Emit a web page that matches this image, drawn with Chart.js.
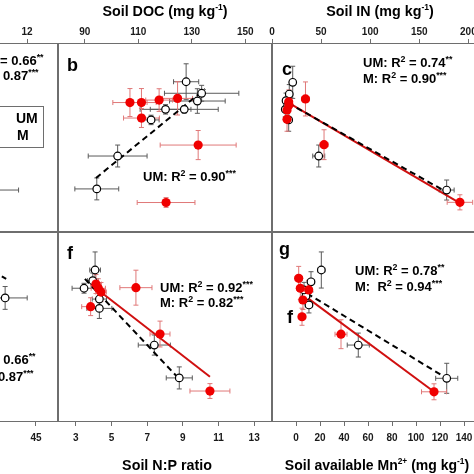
<!DOCTYPE html>
<html><head><meta charset="utf-8">
<script src="https://cdn.jsdelivr.net/npm/chart.js@4"></script>
<style>
html,body{margin:0;padding:0;width:474px;height:474px;overflow:hidden;background:#fff;position:relative}
canvas{position:absolute}
</style></head><body>
<canvas id="tl"></canvas><canvas id="tm"></canvas><canvas id="tr"></canvas>
<canvas id="bl"></canvas><canvas id="bm"></canvas><canvas id="br"></canvas>
<script>
// ---------- tick labels ----------
const tlTicks = [12];
const docTicks = [90, 110, 130, 150];
const inTicks = [0, 50, 100, 150, 200];
const blTicks = [45];
const npTicks = [3, 5, 7, 9, 11, 13];
const mnTicks = [0, 20, 40, 60, 80, 100, 120, 140];

// ---------- panel b : soil DOC ----------
const docUM_x  = [94.5, 102.3, 114.8, 120.2, 127.2, 132.1, 133.7, 127.9];
const docUM_y  = [22.8, 40.2, 59.3, 64.9, 64.9, 69.3, 73.4, 79.5];
const docUM_xe = [8.2, 11.0, 3.0, 9.5, 12.7, 10.4, 13.9, 4.7];
const docUM_ye = [5.8, 5.8, 2.5, 2.5, 2.0, 6.5, 4.2, 9.5];
const docM_x   = [106.9, 111.2, 117.8, 111.2, 124.7, 132.4, 120.4];
const docM_y   = [68.5, 68.5, 69.8, 60.3, 70.7, 46.0, 15.6];
const docM_xe  = [6.4, 5.5, 5.0, 6.7, 5.6, 14.2, 10.8];
const docM_ye  = [7.4, 7.4, 6.0, 5.0, 8.8, 7.7, 2.6];
const docUMfit_x = [94.2, 135.0];
const docUMfit_y = [28.6, 75.7];

// ---------- panel c : soil IN ----------
const inUM_x  = [21.1, 17.6, 14.3, 13.5, 17.0, 47.6, 177.9, 16.0];
const inUM_y  = [79.2, 73.0, 69.5, 64.9, 59.3, 40.2, 22.2, 67.0];
const inUM_xe = [3, 3, 3, 3, 3, 6.1, 7.6, 3];
const inUM_ye = [8.5, 5, 4, 4, 6, 5.8, 5.3, 4];
const inM_x   = [15.3, 17.0, 15.3, 34.1, 53.0, 191.4, 17.3];
const inM_y   = [59.6, 68.9, 64.6, 70.4, 46.2, 15.7, 67.2];
const inM_xe  = [3, 3, 3, 4, 4, 13, 3];
const inM_ye  = [6.3, 5.3, 5, 9, 7.9, 4, 8];
const inUMfit_x = [16.3, 174.1];
const inUMfit_y = [68.3, 22.2];
const inMfit_x  = [15.3, 191.4];
const inMfit_y  = [68.9, 15.3];

// ---------- panel f : soil N:P ratio ----------
const npUM_x  = [4.08, 3.95, 3.46, 4.32, 4.32, 7.40, 8.80];
const npUM_y  = [80.0, 74.4, 70.4, 64.7, 59.8, 40.5, 23.2];
const npUM_xe = [0.3, 0.3, 0.67, 0.4, 0.70, 0.9, 0.73];
const npUM_ye = [9.5, 4, 2.6, 4, 5.3, 5.3, 5.8];
const npM_x   = [4.26, 3.83, 6.37, 7.72, 10.52, 4.13, 4.41];
const npM_y   = [70.4, 60.7, 70.7, 46.3, 16.3, 72.6, 68.4];
const npM_xe  = [0.4, 0.5, 0.9, 0.56, 1.12, 0.3, 0.3];
const npM_ye  = [5, 4.7, 9.2, 6.8, 3.9, 5, 5];
const npUMfit_x = [3.51, 8.90];
const npUMfit_y = [75.3, 21.6];
const npMfit_x  = [3.89, 10.52];
const npMfit_y  = [72.1, 23.8];

// ---------- panel g : soil available Mn2+ ----------
const mnUM_x  = [21.1, 12.5, 8.3, 10.8, 51.9, 125.6, 6.7];
const mnUM_y  = [80.0, 73.8, 66.3, 61.6, 40.5, 23.0, 69.5];
const mnUM_xe = [3, 3, 3, 3, 9.2, 9.2, 3];
const mnUM_ye = [9.5, 5.3, 4, 4.2, 6.3, 7.9, 4];
const mnM_x   = [2.25, 3.6, 10.6, 5.0, 37.5, 115.0, 5.8];
const mnM_y   = [75.6, 70.4, 69.5, 55.4, 46.2, 15.9, 64.2];
const mnM_xe  = [3, 3, 3, 3, 5, 10.4, 3];
const mnM_ye  = [6.3, 6, 5, 4.5, 7.6, 4.2, 5];
const mnUMfit_x = [9.2, 125.6];
const mnUMfit_y = [67.7, 23.0];
const mnMfit_x  = [6.4, 115.0];
const mnMfit_y  = [66.8, 15.9];

// ---------- cropped left panels ----------
const tlUM_x = [9.16], tlUM_y = [22.2], tlUM_xe = [2.16], tlUM_ye = [5.8];
const blUM_x = [36.2], blUM_y = [65.3], blUM_xe = [6.3], blUM_ye = [6.0];
const blUMfit_x = [20.46, 36.5];
const blUMfit_y = [92.6, 75.3];

// ---------- texts ----------
const statTL = ['UM: R^2^ = 0.66^**^', 'M: R^2^ = 0.87^***^'];
const statB  = ['UM: R^2^ = 0.90^***^'];
const statC  = ['UM: R^2^ = 0.74^**^', 'M: R^2^ = 0.90^***^'];
const statBL = ['UM: R^2^ = 0.66^**^', 'M: R^2^ = 0.87^***^'];
const statF  = ['UM: R^2^ = 0.92^***^', 'M: R^2^ = 0.82^***^'];
const statG  = ['UM: R^2^ = 0.78^**^', 'M:  R^2^ = 0.94^***^'];
const titleDOC = 'Soil DOC (mg kg^-1^)';
const titleIN  = 'Soil IN (mg kg^-1^)';
const titleNP  = 'Soil N:P ratio';
const titleMN  = 'Soil available Mn^2+^ (mg kg^-1^)';
const legendNames = ['UM', 'M'];

// ================= drawing helpers =================
const FONT = "'Liberation Sans', Arial, Helvetica, sans-serif";
function rich(s){ return s.split('^').map((t,i)=>({t, sup:i%2===1})).filter(p=>p.t.length); }
function drawRich(ctx, s, x, y, size, align, supScale){
  const k = supScale || 0.68;
  const segs = rich(s);
  const f = sz => `bold ${sz}px ${FONT}`;
  let w = 0;
  segs.forEach(p=>{ ctx.font = f(p.sup ? size*k : size); p.w = ctx.measureText(p.t).width; w += p.w; });
  let cx = align==='center' ? x - w/2 : align==='right' ? x - w : x;
  ctx.fillStyle = '#000'; ctx.textAlign = 'left'; ctx.textBaseline = 'alphabetic';
  segs.forEach(p=>{ ctx.font = f(p.sup ? size*k : size); ctx.fillText(p.t, cx, p.sup ? y - size*0.42 : y); cx += p.w; });
}
function pts(xs, ys){ return xs.map((v,i)=>({x:v, y:ys[i]})); }
function umSet(x,y,xe,ye){ return {data:pts(x,y), errX:xe, errY:ye, errColor:'#5a5a5a', pointRadius:3.8, pointHoverRadius:3.8,
  pointBackgroundColor:'#fff', pointBorderColor:'#000', pointBorderWidth:1.2, order:2}; }
function mSet(x,y,xe,ye){ return {data:pts(x,y), errX:xe, errY:ye, errColor:'#e07878', pointRadius:4.6, pointHoverRadius:4.6,
  pointBackgroundColor:'#f00000', pointBorderColor:'#f00000', pointBorderWidth:0, order:1}; }
function fitSet(x,y,color,dash){ return {data:pts(x,y), showLine:true, pointRadius:0, borderColor:color, borderWidth:2,
  borderDash:dash||[], order:3}; }

function makeDeco(d, g){
  return {
    id:'deco',
    beforeDatasetsDraw(chart){
      const {ctx, chartArea:a, scales:{x, y}} = chart;
      ctx.save();
      ctx.beginPath(); ctx.rect(a.left, a.top, a.right-a.left, a.bottom-a.top); ctx.clip();
      const ln = (x1,y1,x2,y2)=>{ ctx.beginPath(); ctx.moveTo(x1,y1); ctx.lineTo(x2,y2); ctx.stroke(); };
      chart.data.datasets.forEach(ds=>{
        if(!ds.errX) return;
        ctx.strokeStyle = ds.errColor; ctx.lineWidth = 1;
        ds.data.forEach((p,i)=>{
          const px = x.getPixelForValue(p.x), py = y.getPixelForValue(p.y), c = 2.5;
          const ex = ds.errX[i], ey = ds.errY[i];
          if(ex>0){ const l = x.getPixelForValue(p.x-ex), r = x.getPixelForValue(p.x+ex);
            ln(l,py,r,py); ln(l,py-c,l,py+c); ln(r,py-c,r,py+c); }
          if(ey>0){ const t = y.getPixelForValue(p.y+ey), b = y.getPixelForValue(p.y-ey);
            ln(px,t,px,b); ln(px-c,t,px+c,t); ln(px-c,b,px+c,b); }
        });
      });
      ctx.restore();
    },
    afterDraw(chart){
      const {ctx, chartArea:a} = chart;
      ctx.save();
      ctx.strokeStyle = '#6e6e6e'; ctx.lineWidth = 1;
      ctx.strokeRect(a.left+0.5, a.top+0.5, a.right-a.left-1, a.bottom-a.top-1);
      (d.boxes||[]).forEach(b=>{ ctx.strokeRect(b.x-g.left+0.5, b.y-g.top+0.5, b.w, b.h); });
      (d.texts||[]).forEach(t=>drawRich(ctx, t.s, t.x-g.left, t.y-g.top, t.size, t.align||'left', t.sup));
      ctx.restore();
    }
  };
}

function makePanel(id, g, xs, datasets, d){
  const cv = document.getElementById(id);
  cv.width = g.w; cv.height = g.h; cv.style.left = g.left+'px'; cv.style.top = g.top+'px';
  new Chart(cv, {
    type:'scatter',
    data:{datasets},
    options:{
      responsive:false, animation:false, devicePixelRatio:1,
      layout:{autoPadding:false, padding:{left:g.padLeft||0, right:0, top:g.padTop, bottom:g.padBottom}},
      plugins:{legend:{display:false}, tooltip:{enabled:false}},
      scales:{
        x:{type:'linear', position:g.axisPos, min:xs.min, max:xs.max,
          afterBuildTicks:s=>{ s.ticks = xs.ticks.map(v=>({value:v})); },
          afterFit:s=>{ s.height = g.axisH; s.paddingLeft = 0; s.paddingRight = 0; },
          grid:{drawOnChartArea:false, drawTicks:true, tickLength:4, color:'#6e6e6e', lineWidth:1},
          border:{display:false},
          ticks:{color:'#1a1a1a', font:{family:FONT, weight:'bold', size:10}, padding:g.tickPad, maxRotation:0, autoSkip:false}},
        y:{display:false, min:0, max:100}
      }
    },
    plugins:[makeDeco(d, g)]
  });
}

const TOP = {top:0, h:240, padTop:0, padBottom:8, axisPos:'top', axisH:43, tickPad:1};
const BOT = {top:232, h:242, padTop:0, padBottom:0, axisPos:'bottom', axisH:52, tickPad:6};
const COLL = {left:-200, w:258}, COLM = {left:58, w:214}, COLR = {left:262, w:226, padLeft:10};
const LS = 13, LET = 18, TS = 14.3;

// top-left (cropped)
makePanel('tl', {...TOP, ...COLL}, {min:-6.2, max:14.48, ticks:tlTicks},
  [umSet(tlUM_x, tlUM_y, tlUM_xe, tlUM_ye)],
  {texts:[{s:statTL[0], x:43.5, y:65, size:LS, align:'right'},
          {s:statTL[1], x:38.5, y:80, size:LS, align:'right'},
          {s:legendNames[0], x:16, y:123, size:14},
          {s:legendNames[1], x:17, y:140, size:14}],
   boxes:[{x:-60, y:106, w:103, h:41}]});

// panel b
makePanel('tm', {...TOP, ...COLM}, {min:80, max:160, ticks:docTicks},
  [umSet(docUM_x, docUM_y, docUM_xe, docUM_ye), mSet(docM_x, docM_y, docM_xe, docM_ye),
   fitSet(docUMfit_x, docUMfit_y, '#000', [6,4])],
  {texts:[{s:'b', x:67, y:71, size:LET},
          {s:statB[0], x:143, y:181, size:LS},
          {s:titleDOC, x:165, y:16, size:TS, align:'center', sup:0.6}]});

// panel c
makePanel('tr', {...TOP, ...COLR}, {min:0, max:220, ticks:inTicks},
  [umSet(inUM_x, inUM_y, inUM_xe, inUM_ye), mSet(inM_x, inM_y, inM_xe, inM_ye),
   fitSet(inUMfit_x, inUMfit_y, '#000', [6,4]), fitSet(inMfit_x, inMfit_y, '#d01010')],
  {texts:[{s:'c', x:282, y:75, size:LET},
          {s:statC[0], x:363, y:67, size:LS},
          {s:statC[1], x:363, y:83, size:LS},
          {s:titleIN, x:380, y:16, size:TS, align:'center', sup:0.6}]});

// bottom-left (cropped)
makePanel('bl', {...BOT, ...COLL}, {min:-22.4, max:51.3, ticks:blTicks},
  [umSet(blUM_x, blUM_y, blUM_xe, blUM_ye), fitSet(blUMfit_x, blUMfit_y, '#000', [6,4])],
  {texts:[{s:statBL[0], x:35.5, y:364, size:LS, align:'right'},
          {s:statBL[1], x:33.5, y:381, size:LS, align:'right'}]});

// panel f
makePanel('bm', {...BOT, ...COLM}, {min:2, max:14, ticks:npTicks},
  [umSet(npUM_x, npUM_y, npUM_xe, npUM_ye), mSet(npM_x, npM_y, npM_xe, npM_ye),
   fitSet(npUMfit_x, npUMfit_y, '#000', [6,4]), fitSet(npMfit_x, npMfit_y, '#d01010')],
  {texts:[{s:'f', x:67, y:259, size:LET},
          {s:statF[0], x:160, y:292, size:LS},
          {s:statF[1], x:160, y:307, size:LS},
          {s:titleNP, x:167, y:470, size:TS, align:'center'}]});

// panel g
makePanel('br', {...BOT, ...COLR}, {min:-20, max:160, ticks:mnTicks},
  [umSet(mnUM_x, mnUM_y, mnUM_xe, mnUM_ye), mSet(mnM_x, mnM_y, mnM_xe, mnM_ye),
   fitSet(mnUMfit_x, mnUMfit_y, '#000', [6,4]), fitSet(mnMfit_x, mnMfit_y, '#d01010')],
  {texts:[{s:'g', x:279, y:255, size:LET},
          {s:'f', x:287, y:323, size:LET},
          {s:statG[0], x:355, y:275, size:LS},
          {s:statG[1], x:355, y:291, size:LS},
          {s:titleMN, x:377, y:470, size:14, align:'center', sup:0.6}]});
</script>
</body></html>
